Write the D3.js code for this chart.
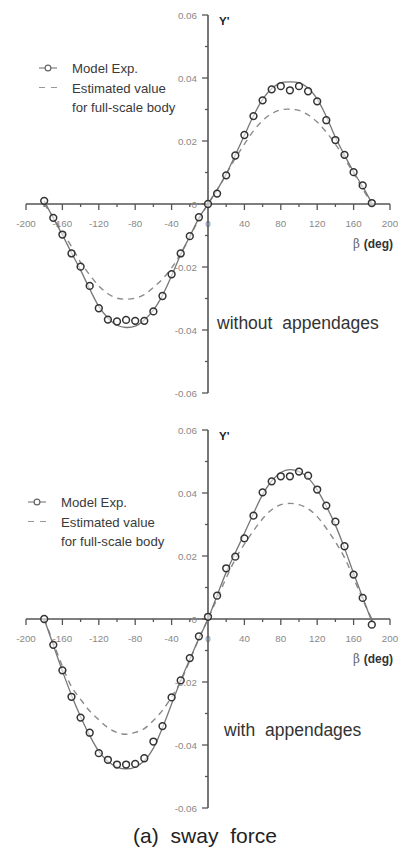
<!DOCTYPE html>
<html><head><meta charset="utf-8">
<script src="https://cdn.jsdelivr.net/npm/d3@7"></script>
<style>
html,body{margin:0;padding:0;background:#fff;}
svg{display:block;}
text{font-family:"Liberation Sans",Arial,sans-serif;}
</style></head>
<body>
<script>
// ---- data ----
const betaExp = [-180,-170,-160,-150,-140,-130,-120,-110,-100,-90,-80,-70,-60,-50,-40,-30,-20,-10,0,10,20,30,40,50,60,70,80,90,100,110,120,130,140,150,160,170,180];
const betaCurve = betaExp;
const xTickLabels = [-200,-160,-120,-80,-40,0,40,80,120,160,200];
const yTickLabels = [-0.06,-0.04,-0.02,0,0.02,0.04,0.06];

// without appendages
const expWithout = [0.001,-0.0044,-0.0097,-0.0157,-0.0199,-0.026,-0.0331,-0.0367,-0.0373,-0.0368,-0.0371,-0.0371,-0.0341,-0.0292,-0.0223,-0.0157,-0.0102,-0.0042,0,0.0033,0.0091,0.0154,0.0219,0.0279,0.0329,0.0364,0.0374,0.0361,0.0374,0.0358,0.0326,0.0266,0.0203,0.0156,0.0101,0.0059,0.0003];
const fitWithout = [0.001,-0.0045,-0.0098,-0.0155,-0.021,-0.027,-0.0325,-0.0362,-0.0385,-0.0392,-0.0388,-0.0368,-0.0337,-0.029,-0.0228,-0.016,-0.0103,-0.0045,0,0.0045,0.0095,0.0155,0.0218,0.028,0.0332,0.0367,0.0385,0.0388,0.0385,0.0368,0.0333,0.0278,0.0212,0.0155,0.0102,0.0055,0.0003];
const fullWithout = [0,-0.0042,-0.0088,-0.0135,-0.0185,-0.0225,-0.026,-0.0285,-0.0299,-0.0302,-0.0299,-0.0288,-0.0265,-0.0238,-0.0203,-0.0158,-0.0105,-0.0048,0,0.0045,0.0095,0.0145,0.019,0.0232,0.0265,0.0287,0.0299,0.0301,0.0297,0.0283,0.026,0.0228,0.019,0.0145,0.0097,0.0048,0];

// with appendages
const expWith = [0,-0.0082,-0.0163,-0.0247,-0.0313,-0.0361,-0.0426,-0.0447,-0.0462,-0.0462,-0.046,-0.0442,-0.0389,-0.034,-0.0249,-0.0195,-0.0124,-0.0055,0.0007,0.0074,0.0161,0.0198,0.0256,0.0328,0.0402,0.0437,0.0453,0.0453,0.0468,0.0455,0.0411,0.036,0.0309,0.0231,0.0141,0.0067,-0.0018];
const fitWith = [0,-0.0083,-0.0165,-0.0242,-0.031,-0.037,-0.042,-0.0452,-0.047,-0.0476,-0.047,-0.045,-0.041,-0.0345,-0.027,-0.0195,-0.0128,-0.0062,0,0.0075,0.0148,0.021,0.0272,0.0335,0.0395,0.0438,0.0465,0.0474,0.0468,0.0448,0.041,0.0358,0.0298,0.0225,0.0145,0.0068,-0.0008];
const fullWith = [0,-0.0075,-0.015,-0.0215,-0.0255,-0.0292,-0.032,-0.0345,-0.036,-0.0366,-0.036,-0.0348,-0.0322,-0.029,-0.0248,-0.0198,-0.0132,-0.0062,0,0.0065,0.013,0.019,0.0238,0.028,0.0318,0.0347,0.0363,0.0367,0.0363,0.035,0.0325,0.0288,0.0245,0.0195,0.013,0.0062,0];

const W = 401, H = 848;
const svg = d3.select("body").append("svg").attr("width", W).attr("height", H);

const AX = "#555", LBL = "#888", TXT = "#3a3a3a";

function panel(o) {
  const x = d3.scaleLinear().domain([-200,200]).range([26,390]);
  const y = d3.scaleLinear().domain([-0.06,0.06]).range([o.y1, o.y0]);
  const g = svg.append("g");
  const y0 = y(0), x0 = x(0);

  // x axis
  g.append("line").attr("x1",x(-200)).attr("x2",x(200)).attr("y1",y0).attr("y2",y0)
    .attr("stroke",AX).attr("stroke-width",1.6);
  d3.range(-200,201,20).forEach(v => {
    const major = v % 40 === 0;
    if (v === 0) return;
    g.append("line").attr("x1",x(v)).attr("x2",x(v)).attr("y1",y0).attr("y2",y0 + (major?6:3))
      .attr("stroke",AX).attr("stroke-width",1.3);
  });
  xTickLabels.forEach(v => {
    g.append("text").attr("x",x(v)).attr("y",y0+23).attr("text-anchor","middle")
      .attr("font-size",9.8).attr("fill",LBL).text(v < 0 ? "-" + Math.abs(v) : v);
  });

  // y axis
  g.append("line").attr("x1",x0).attr("x2",x0).attr("y1",y(0.06)).attr("y2",y(-0.06))
    .attr("stroke",AX).attr("stroke-width",1.6);
  d3.range(-6,7,1).forEach(k => {
    const v = k/100, major = k % 2 === 0;
    g.append("line").attr("x1",x0 - (major?6:3)).attr("x2",x0).attr("y1",y(v)).attr("y2",y(v))
      .attr("stroke",AX).attr("stroke-width",1.3);
  });
  yTickLabels.forEach(v => {
    g.append("text").attr("x",x0-11).attr("y",y(v)+3.5).attr("text-anchor","end")
      .attr("font-size",9.8).attr("fill",LBL).text(v === 0 ? "0" : (v<0?"-":"") + Math.abs(v).toFixed(2));
  });

  // axis titles
  g.append("text").attr("x",x0+11).attr("y",y(0.06)+10).attr("font-size",11.5).attr("font-weight","bold")
    .attr("fill","#222").text("Y'");
  const bt = g.append("text").attr("x",393).attr("y",y0+44).attr("text-anchor","end").attr("font-size",12);
  bt.append("tspan").attr("fill","#666").attr("font-family","DejaVu Serif").text("β ");
  bt.append("tspan").attr("fill","#333").attr("font-weight","bold").text("(deg)");

  // curves
  const line = d3.line().x((d,i)=>x(betaCurve[i])).y(d=>y(d)).curve(d3.curveCatmullRom.alpha(0.5));
  g.append("path").attr("d", line(o.full)).attr("fill","none").attr("stroke","#8a8a8a")
    .attr("stroke-width",1.4).attr("stroke-dasharray","6,5");
  g.append("path").attr("d", line(o.fit)).attr("fill","none").attr("stroke","#777").attr("stroke-width",1.3);

  // points
  g.selectAll("circle.pt").data(o.exp).enter().append("circle").attr("class","pt")
    .attr("cx",(d,i)=>x(betaExp[i])).attr("cy",d=>y(d)).attr("r",3.4)
    .attr("fill","#fff").attr("fill-opacity",0.6).attr("stroke","#333").attr("stroke-width",1.5);

  // legend
  const lx = o.lx, ly = o.ly;
  g.append("line").attr("x1",lx).attr("x2",lx+18).attr("y1",ly).attr("y2",ly).attr("stroke","#777").attr("stroke-width",1.1);
  g.append("circle").attr("cx",lx+9).attr("cy",ly).attr("r",2.9).attr("fill","#fff").attr("stroke","#666").attr("stroke-width",1.2);
  g.append("line").attr("x1",lx).attr("x2",lx+18).attr("y1",ly+19.5).attr("y2",ly+19.5).attr("stroke","#999")
    .attr("stroke-width",1.2).attr("stroke-dasharray","6,6");
  const tx = lx + 33;
  g.append("text").attr("x",tx).attr("y",ly+5).attr("font-size",13.2).attr("fill",TXT).text("Model Exp.");
  g.append("text").attr("x",tx).attr("y",ly+24.5).attr("font-size",13.2).attr("fill",TXT).text("Estimated value");
  g.append("text").attr("x",tx).attr("y",ly+43.5).attr("font-size",13.2).attr("fill",TXT).text("for full-scale body");

  // panel note
  g.append("text").attr("x",o.nx).attr("y",o.ny).attr("font-family","DejaVu Sans").attr("font-size",17.5)
    .attr("fill","#333").attr("word-spacing",5).text(o.note);
}

panel({y0:15, y1:393, exp:expWithout, fit:fitWithout, full:fullWithout, lx:39, ly:68,
       note:"without appendages", nx:217, ny:329});
panel({y0:430, y1:808, exp:expWith, fit:fitWith, full:fullWith, lx:28, ly:502,
       note:"with appendages", nx:224, ny:736});

svg.append("text").attr("x",205).attr("y",843).attr("text-anchor","middle")
  .attr("font-family","DejaVu Sans").attr("font-size",21).attr("fill","#222").attr("word-spacing",6)
  .text("(a) sway force");
</script>
</body></html>
